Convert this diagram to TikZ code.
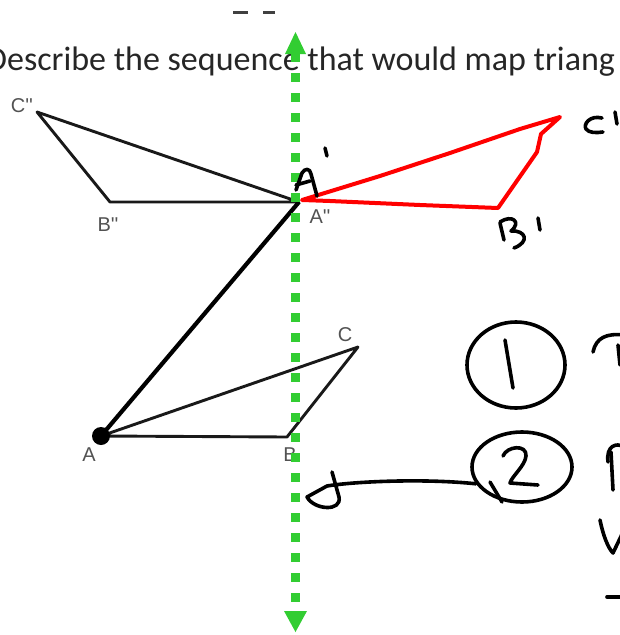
\documentclass[tikz,border=0pt]{standalone}
\usepackage{fontspec}
\usetikzlibrary{shapes.geometric}
\newfontfamily\slidefont{Carlito}
\newfontfamily\labelfont{Liberation Sans}
\definecolor{guide}{RGB}{50,205,50}

\begin{document}
\begin{tikzpicture}[x=1pt,y=-1pt,
  edge/.style={line width=2.9pt,black!90,line join=round},
  pen/.style={line width=3.6pt,line cap=round,line join=round},
  vlabel/.style={font=\labelfont\fontsize{20}{20}\selectfont,text=black!68,inner sep=0pt}]
  \useasboundingbox (0,0) rectangle (619,635);
  % question line
  \node[font=\slidefont\fontsize{34}{34}\selectfont,anchor=base west,inner sep=0pt,text=black!85] (question) at (-14,70) {Describe the sequence that would map triang};
  \draw[line width=3pt,black!75] (233,12) -- (248,12) (263,12) -- (275,12);
  % triangle ABC
  \coordinate (A) at (101,436);
  \coordinate (B) at (287,437);
  \coordinate (C) at (358,347);
  \draw[edge] (A) -- (B) -- (C) -- cycle;
  \fill (A) circle (9);
  \node[vlabel] (lA) at (89,455) {A};
  \node[vlabel] (lB) at (290,455) {B};
  \node[vlabel] (lC) at (345,335) {C};
  % triangle A''B''C''
  \coordinate (A2) at (299,202);
  \coordinate (B2) at (110,202);
  \coordinate (C2) at (37,112);
  \draw[edge] (A2) -- (B2) -- (C2) -- cycle;
  \node[vlabel] (lA2) at (320,217) {A''};
  \node[vlabel] (lB2) at (108,225) {B''};
  \node[vlabel] (lC2) at (22,106) {C''};
  \draw[line width=4.2pt] (A) -- (A2);
  % line of reflection
  \draw[guide,line width=9pt,dash pattern=on 9pt off 11pt] (295.5,53) -- (295.5,612);
  \fill[guide] (295.5,32) -- (306,54) -- (285,54) -- cycle;
  \fill[guide] (295.5,632) -- (307,611) -- (284,611) -- cycle;
  % triangle A'B'C' in red
  \coordinate (A1) at (302,200);
  \coordinate (B1) at (498,208);
  \coordinate (C1) at (560,117);
  \draw[pen,red,line width=4pt] (A1) -- (380,176) -- (450,153) -- (520,129) -- (C1)
    -- (541,134) -- (537,152) -- (B1) -- (420,205) -- (330,201) -- cycle;
  % handwritten labels
  \draw[pen] (296,190) -- (302,173) .. controls (305,168) and (310,168) .. (311,174) -- (317,196);
  \draw[pen] (296,185) -- (310,181);
  \draw[pen] (325,148) -- (327,156);
  \draw[pen] (602,118) .. controls (590,115) and (583,124) .. (586,129) .. controls (589,133) and (596,133) .. (603,132);
  \draw[pen] (615,112) -- (617,124);
  \draw[pen] (500,223) -- (504,240);
  \draw[pen] (500,222) .. controls (512,214) and (522,222) .. (511,231)
    .. controls (526,230) and (530,242) .. (514,248);
  \draw[pen] (538,218) -- (540,230);
  % step numbers
  \node[draw,ellipse,pen,minimum width=98pt,minimum height=86pt] (one) at (516,365) {};
  \draw[pen] (505,340) -- (513,388);
  \node[draw,ellipse,pen,minimum width=100pt,minimum height=70pt] (two) at (522,467) {};
  \draw[pen] (503,456) .. controls (507,446) and (527,444) .. (526,456)
    .. controls (525,466) and (512,476) .. (510,483) -- (538,485);
  % arrow to the mirror line
  \coordinate (tip) at (307,497);
  \draw[pen] (two.200) .. controls (420,478) and (350,482) .. (327,486) -- (tip)
    .. controls (314,510) and (342,512) .. (339,497) -- (332,472);
  \draw[pen] (490,482) -- (502,502);
  % cut-off writing at the right edge
  \draw[pen] (593,352) .. controls (596,338) and (606,333) .. (624,335);
  \draw[pen] (618,345) -- (620,365);
  \draw[pen] (611,452) -- (613,490);
  \draw[pen] (608,462) .. controls (606,446) and (616,442) .. (624,447);
  \draw[pen] (600,520) .. controls (603,535) and (608,548) .. (613,553) -- (624,530);
  \draw[pen] (607,597) -- (624,597);
\end{tikzpicture}
\end{document}
